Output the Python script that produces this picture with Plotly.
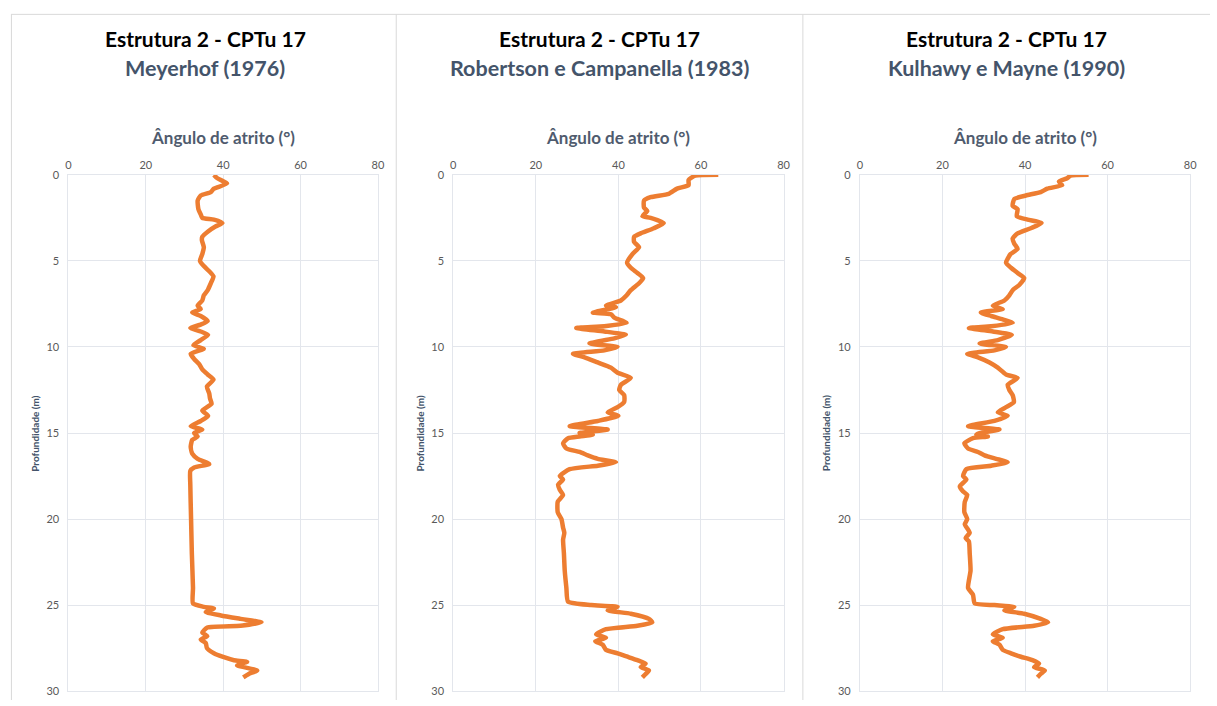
import plotly.graph_objects as go

# Depth (m) / friction angle (deg) profiles, CPTu 17 - Estrutura 2
meyerhof_depth = [0, 0.2, 0.5, 0.8, 1.0, 1.2, 1.5, 2.0, 2.3, 2.5, 2.6, 2.8, 3.0, 3.3, 3.6, 3.8, 4.2, 4.6, 5.0,
                  5.3, 5.6, 5.9, 6.3, 6.7, 7.0, 7.3, 7.6, 7.8, 8.0, 8.2, 8.5, 8.7, 8.9, 9.1, 9.3, 9.6, 9.9,
                  10.1, 10.4, 10.7, 11.0, 11.3, 11.6, 11.9, 12.3, 12.7, 13.0, 13.3, 13.7, 14.0, 14.3, 14.6,
                  14.8, 15.0, 15.2, 15.4, 15.8, 16.2, 16.5, 16.8, 17.0, 17.2, 18.0, 20.0, 22.0, 24.0, 24.9,
                  25.1, 25.2, 25.4, 25.6, 25.8, 26.0, 26.2, 26.3, 26.6, 26.8, 27.0, 27.2, 27.5, 27.8, 28.0,
                  28.2, 28.3, 28.5, 28.8, 29.0, 29.2]
meyerhof_phi = [37.6, 38.5, 41.0, 37.6, 36.8, 34.2, 33.4, 33.6, 34.2, 34.6, 37.6, 39.8, 38.0, 36.0, 34.6, 34.5,
                35.0, 34.6, 34.0, 35.0, 36.4, 37.5, 36.8, 36.0, 35.0, 34.6, 33.4, 34.2, 32.0, 34.2, 36.0,
                34.2, 31.5, 34.2, 36.1, 34.2, 32.3, 35.0, 31.6, 32.5, 33.8, 34.6, 36.0, 37.5, 35.8, 36.4,
                36.6, 37.0, 34.6, 36.1, 34.2, 31.6, 34.6, 32.5, 33.4, 32.0, 31.6, 32.0, 33.4, 36.4, 32.5,
                31.5, 31.5, 31.7, 31.9, 32.2, 32.2, 35.0, 37.6, 35.5, 39.4, 44.5, 49.9, 44.5, 35.9, 34.6,
                35.9, 34.2, 35.5, 35.8, 37.6, 39.8, 42.8, 46.2, 43.6, 48.8, 46.6, 45.2]

robertson_depth = [0, 0.05, 0.3, 0.6, 0.8, 1.1, 1.3, 1.5, 1.9, 2.1, 2.4, 2.5, 2.8, 3.1, 3.4, 3.6, 3.9, 4.2, 4.6,
                   5.1, 5.4, 5.7, 6.0, 6.3, 6.7, 7.0, 7.3, 7.6, 7.7, 8.0, 8.1, 8.3, 8.6, 8.8, 8.9, 9.1, 9.3,
                   9.5, 9.8, 10.0, 10.2, 10.4, 10.6, 10.9, 11.2, 11.5, 11.8, 12.2, 12.5, 12.8, 13.2, 13.5,
                   13.8, 14.0, 14.3, 14.6, 14.8, 15.0, 15.1, 15.2, 15.3, 15.6, 15.9, 16.1, 16.3, 16.5, 16.7,
                   16.9, 17.1, 17.5, 17.7, 18.0, 18.3, 18.6, 19.0, 19.6, 20.0, 20.5, 20.8, 21.2, 22.0, 23.0,
                   24.0, 24.8, 25.0, 25.1, 25.3, 25.5, 25.8, 26.0, 26.2, 26.4, 26.7, 26.9, 27.1, 27.3, 27.6,
                   27.8, 28.0, 28.2, 28.4, 28.6, 28.8, 29.0, 29.2]
robertson_phi = [64.2, 58.6, 57.0, 57.0, 54.2, 52.2, 47.8, 46.2, 46.2, 47.0, 45.8, 47.8, 51.0, 48.6, 45.4, 43.8,
                 43.8, 45.0, 43.4, 42.1, 43.0, 44.6, 46.0, 45.0, 43.0, 42.0, 40.6, 37.0, 39.4, 33.8, 38.2,
                 39.0, 42.0, 36.6, 29.8, 36.6, 41.8, 39.0, 33.0, 39.8, 36.6, 29.0, 31.8, 35.0, 38.2, 39.8,
                 43.0, 40.6, 40.2, 41.4, 41.4, 39.8, 37.4, 40.0, 35.0, 28.2, 37.4, 30.6, 33.8, 30.6, 27.8,
                 26.6, 27.4, 30.6, 32.6, 35.0, 39.4, 35.0, 28.2, 25.8, 26.6, 25.4, 25.8, 26.6, 25.3, 25.3,
                 26.2, 26.6, 26.9, 26.6, 26.8, 27.0, 27.4, 27.8, 33.4, 39.8, 37.4, 43.0, 47.4, 48.2, 44.6,
                 37.0, 34.6, 37.0, 34.4, 36.2, 37.0, 39.8, 42.2, 44.6, 46.6, 45.4, 47.4, 46.6, 45.8]

kulhawy_depth = [0, 0.05, 0.2, 0.4, 0.6, 0.8, 1.0, 1.2, 1.4, 1.8, 2.0, 2.4, 2.6, 2.8, 3.1, 3.4, 3.7, 4.0, 4.3,
                 4.6, 5.1, 5.4, 5.7, 6.0, 6.4, 6.7, 7.0, 7.3, 7.6, 7.8, 8.0, 8.2, 8.4, 8.6, 8.8, 8.9, 9.1,
                 9.3, 9.6, 9.8, 10.0, 10.2, 10.4, 10.6, 10.9, 11.2, 11.6, 11.8, 12.2, 12.5, 12.8, 13.2, 13.5,
                 13.8, 14.0, 14.3, 14.6, 14.8, 15.0, 15.1, 15.2, 15.3, 15.6, 15.9, 16.1, 16.3, 16.5, 16.7,
                 16.9, 17.1, 17.5, 17.7, 18.1, 18.4, 18.6, 19.0, 19.6, 20.0, 20.3, 20.8, 21.1, 21.3, 22.0,
                 23.0, 24.0, 24.4, 24.9, 25.0, 25.1, 25.3, 25.5, 25.8, 26.0, 26.2, 26.4, 26.7, 26.9, 27.1,
                 27.3, 27.6, 27.8, 28.0, 28.2, 28.4, 28.6, 28.8, 29.0, 29.2]
kulhawy_phi = [55.4, 51.0, 50.2, 48.2, 49.0, 45.4, 43.8, 40.2, 37.4, 37.0, 38.2, 38.0, 40.6, 44.0, 41.4, 38.2,
               37.0, 37.4, 38.2, 36.5, 35.4, 36.6, 38.2, 39.8, 38.6, 37.0, 36.2, 35.0, 32.2, 34.6, 29.3,
               31.8, 34.6, 37.0, 31.8, 26.4, 32.2, 36.8, 33.4, 29.0, 35.4, 32.6, 26.0, 28.6, 31.4, 33.4,
               35.4, 38.2, 35.8, 36.2, 37.0, 37.3, 35.4, 33.4, 35.8, 32.6, 26.2, 33.8, 29.0, 28.2, 31.0,
               27.4, 25.3, 26.2, 28.6, 30.2, 33.0, 35.8, 31.8, 25.8, 25.0, 25.8, 24.2, 25.0, 26.0, 25.4,
               25.3, 26.0, 25.4, 26.6, 25.6, 26.4, 26.6, 26.8, 26.2, 27.4, 27.8, 32.6, 37.4, 35.0, 39.8,
               43.8, 45.6, 42.2, 34.6, 32.2, 34.6, 32.2, 33.8, 34.6, 36.6, 39.0, 41.8, 43.4, 42.2, 44.8,
               43.8, 43.0]

panel_titles = ["Meyerhof (1976)", "Robertson e Campanella (1983)", "Kulhawy e Mayne (1990)"]
main_title = "Estrutura 2 - CPTu 17"
x_title = "Ângulo de atrito (°)"
y_title = "Profundidade (m)"
x_ticks = [0, 20, 40, 60, 80]
y_ticks = [0, 5, 10, 15, 20, 25, 30]

W, H = 1217, 706
FONT = "Lato"
ORANGE = "#ED7D31"
GRID = "#E3E6EC"
SUB = "#44546A"
FRAME = "#D9D9D9"


def px(v):
    return v / W


def py(v):
    return 1 - v / H


series = [(meyerhof_phi, meyerhof_depth), (robertson_phi, robertson_depth), (kulhawy_phi, kulhawy_depth)]
# plot-area pixel bounds of each panel (left, right)
plot_px = [(66, 378), (454, 787), (864, 1197)]
panel_centers = [204, 601, 1012]
y_top, y_bot = 171, 697

fig = go.Figure()
annotations = []
for i, ((phi, depth), (x0, x1)) in enumerate(zip(series, plot_px)):
    xa = "x" if i == 0 else f"x{i+1}"
    ya = "y" if i == 0 else f"y{i+1}"
    fig.add_trace(go.Scatter(x=phi, y=depth, mode="lines", xaxis=xa, yaxis=ya,
                             line=dict(color=ORANGE, width=4.5, shape="spline", smoothing=0.5),
                             showlegend=False, hoverinfo="skip"))
    key = "" if i == 0 else str(i + 1)
    fig.update_layout(**{
        f"xaxis{key}": dict(domain=[px(x0), px(x1)], anchor=ya, side="top", range=[0, 80],
                            tickvals=x_ticks, showgrid=True, gridcolor=GRID, gridwidth=1,
                            showline=True, linecolor=GRID, mirror=True, zeroline=False,
                            ticks="", tickfont=dict(family=FONT, size=11, color="#595959")),
        f"yaxis{key}": dict(domain=[py(y_bot), py(y_top)], anchor=xa, range=[30, 0],
                            tickvals=y_ticks, showgrid=True, gridcolor=GRID, gridwidth=1,
                            showline=True, linecolor=GRID, mirror=True, zeroline=False,
                            ticks="", ticklabelstandoff=6,
                            tickfont=dict(family=FONT, size=11, color="#595959")),
    })
    cx = px(panel_centers[i])
    annotations.append(dict(text=f"<b>{main_title}</b>", x=cx, y=py(32), xref="paper", yref="paper",
                            showarrow=False, xanchor="center", yanchor="middle",
                            font=dict(family=FONT, size=21, color="#000000")))
    annotations.append(dict(text=f"<b>{panel_titles[i]}</b>", x=cx, y=py(62), xref="paper", yref="paper",
                            showarrow=False, xanchor="center", yanchor="middle",
                            font=dict(family=FONT, size=21.5, color=SUB)))
    annotations.append(dict(text=f"<b>{x_title}</b>", x=px((x0 + x1) / 2), y=py(133),
                            xref="paper", yref="paper", showarrow=False, xanchor="center", yanchor="middle",
                            font=dict(family=FONT, size=17, color="#4F5B6E")))
    annotations.append(dict(text=f"<b>{y_title}</b>", x=px(x0 - 34), y=py(434), xref="paper",
                            yref="paper", showarrow=False, textangle=-90, xanchor="center", yanchor="middle",
                            font=dict(family=FONT, size=10, color=SUB)))

# panel frames
shapes = [dict(type="line", xref="paper", yref="paper", x0=px(8), x1=1, y0=py(7.5), y1=py(7.5),
               line=dict(color=FRAME, width=1))]
for xv in [8.5, 396.5, 806.5]:
    shapes.append(dict(type="line", xref="paper", yref="paper", x0=px(xv), x1=px(xv), y0=0, y1=py(7.5),
                       line=dict(color=FRAME, width=1)))

fig.update_layout(width=W, height=H, margin=dict(l=0, r=0, t=0, b=0), paper_bgcolor="white",
                  plot_bgcolor="white", annotations=annotations, shapes=shapes)

# place the figure flush with the page corner, without scrollbars
page_js = ("document.documentElement.style.margin='0';document.documentElement.style.overflow='hidden';"
           "document.body.style.margin='0';document.body.style.overflow='hidden';")
fig.write_html("out.html", post_script=page_js)
